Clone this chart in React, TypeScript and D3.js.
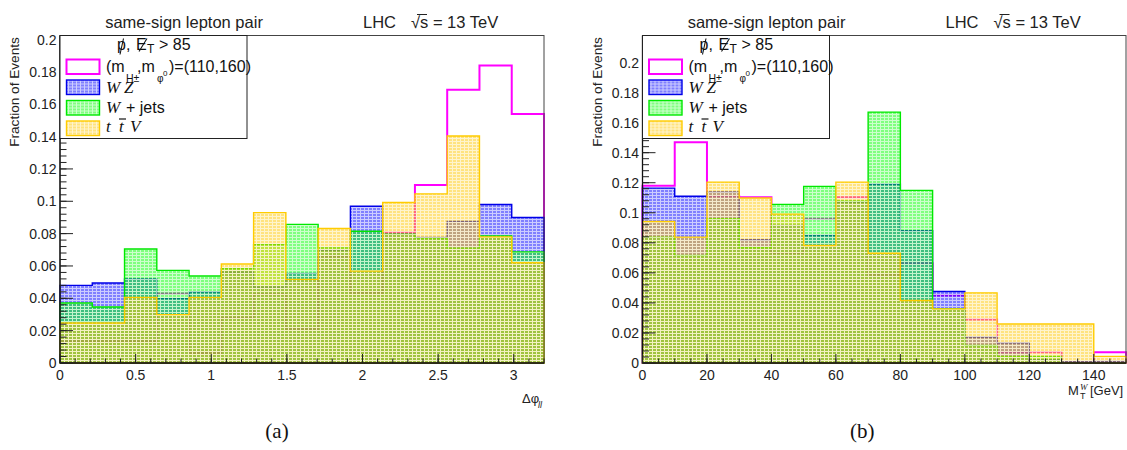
import * as d3 from 'd3';
import React from 'react';

// 15 equal bins on each distribution
const nBins = 15;
const dphiRange: [number, number] = [0, 3.2];
const mtRange: [number, number] = [0, 150];

// (a) delta phi_ll, normalised
const dphiSignal = [0.0134, 0.0134, 0.0134, 0.0429, 0.0062, 0.028, 0.0425, 0.021, 0.0658, 0.0434, 0.0807, 0.110, 0.169, 0.184, 0.154];
const dphiWZ = [0.048, 0.0495, 0.052, 0.0398, 0.0439, 0.0563, 0.047, 0.0554, 0.0697, 0.0969, 0.080, 0.0776, 0.0876, 0.098, 0.090];
const dphiWjets = [0.0371, 0.0346, 0.0705, 0.0573, 0.0538, 0.0583, 0.0732, 0.0857, 0.0712, 0.0815, 0.0797, 0.077, 0.071, 0.0786, 0.0687];
const dphiTTV = [0.0247, 0.0247, 0.0406, 0.0299, 0.0406, 0.0612, 0.093, 0.0517, 0.0832, 0.0568, 0.0992, 0.1046, 0.1404, 0.078, 0.062];

// (b) M_T^W, normalised
const mtSignal = [0.118, 0.147, 0.111, 0.1104, 0.0733, 0.096, 0.1104, 0.0587, 0.0664, 0.0449, 0.0289, 0.0071, 0.0071, 0, 0.0071];
const mtWZ = [0.1164, 0.111, 0.1138, 0.082, 0.0916, 0.0849, 0.107, 0.119, 0.088, 0.0476, 0.0171, 0.0133, 0.0022, 0.0009, 0.001];
const mtWjets = [0.0838, 0.0716, 0.096, 0.0767, 0.1056, 0.1176, 0.1078, 0.167, 0.1149, 0.036, 0.0116, 0.0044, 0.0044, 0, 0];
const mtTTV = [0.0942, 0.0838, 0.1204, 0.1098, 0.0991, 0.0782, 0.1204, 0.0731, 0.0416, 0.036, 0.0467, 0.026, 0.026, 0.026, 0.0044];

const dphiTicks = [0, 0.5, 1, 1.5, 2, 2.5, 3];
const dphiTickLabels = ['0', '0.5', '1', '1.5', '2', '2.5', '3'];
const mtTicks = [0, 20, 40, 60, 80, 100, 120, 140];
const mtTickLabels = ['0', '20', '40', '60', '80', '100', '120', '140'];
const yTicks = [0, 0.02, 0.04, 0.06, 0.08, 0.1, 0.12, 0.14, 0.16, 0.18, 0.2];
const yTickLabels = ['0', '0.02', '0.04', '0.06', '0.08', '0.1', '0.12', '0.14', '0.16', '0.18', '0.2'];

const SANS = 'Liberation Sans, Arial, sans-serif';
const SERIF = 'Liberation Serif, Times New Roman, serif';
const FILL_OP = 0.5;

// drawing order: signal, WZ, W+jets, ttV
const styles = [
  { stroke: '#ff00ff', fill: null, width: 2 },
  { stroke: '#0000e8', fill: '#0000ff', width: 1.4 },
  { stroke: '#00e800', fill: '#00ff00', width: 1.4 },
  { stroke: '#ffcc00', fill: '#ffc800', width: 1.4 },
];

function Legend({ left }: { left: number }) {
  const boxY = [24, 44.5, 65, 85.5];
  return (
    <g transform={`translate(${left},35.5)`} fontFamily={SANS} fill="#111">
      <rect x={0} y={0} width={187} height={103} fill="white" stroke="#222" strokeWidth={1} />
      {/* header: slashed p, slashed E_T > 85 */}
      <text x={57} y={14.5} fontSize={16}>p,</text>
      <line x1={63.5} x2={60} y1={3} y2={19} stroke="#111" strokeWidth={1.1} />
      <text x={76} y={14.5} fontSize={16}>E</text>
      <line x1={87} x2={79} y1={3} y2={16} stroke="#111" strokeWidth={1.1} />
      <text x={87} y={17.5} fontSize={12}>T</text>
      <text x={99} y={14.5} fontSize={16}>{'> 85'}</text>
      {styles.map((s, i) => (
        <g key={i}>
          {s.fill && <rect x={6.5} y={boxY[i]} width={33} height={14.5} fill={s.fill} fillOpacity={FILL_OP} />}
          {s.fill && <rect x={6.5} y={boxY[i]} width={33} height={14.5} fill="url(#rootgrid)" />}
          <rect x={6.5} y={boxY[i]} width={33} height={14.5} fill="none" stroke={s.stroke} strokeWidth={s.width} />
        </g>
      ))}
      <text x={46} y={36.5} fontSize={16}>(m</text>
      <text x={66} y={46} fontSize={10.5}>H±</text>
      <text x={77} y={36.5} fontSize={16}>,m</text>
      <text x={97} y={46} fontSize={10}>φ</text>
      <text x={103} y={40} fontSize={8}>0</text>
      <text x={109} y={36.5} fontSize={16}>)=(110,160)</text>
      <text x={46} y={57.5} fontSize={17} fontFamily={SERIF} fontStyle="italic">W</text>
      <text x={64} y={57.5} fontSize={17} fontFamily={SERIF} fontStyle="italic">Z</text>
      <text x={46} y={77} fontSize={17} fontFamily={SERIF} fontStyle="italic">W</text>
      <text x={66} y={77} fontSize={16}>+ jets</text>
      <text x={46} y={96.5} fontSize={17} fontFamily={SERIF} fontStyle="italic">t</text>
      <text x={59} y={96.5} fontSize={17} fontFamily={SERIF} fontStyle="italic">t</text>
      <line x1={59} x2={66} y1={83.5} y2={83.5} stroke="#111" strokeWidth={1.2} />
      <text x={70} y={96.5} fontSize={17} fontFamily={SERIF} fontStyle="italic">V</text>
    </g>
  );
}

type PanelProps = {
  left: number;
  right: number;
  xDomain: [number, number];
  yMax: number;
  hists: number[][];
  xTicks: number[];
  xLabels: string[];
  xMinor: number;
  xTitle: React.ReactNode;
  caption: string;
};

function Panel({ left, right, xDomain, yMax, hists, xTicks, xLabels, xMinor, xTitle, caption }: PanelProps) {
  const top = 35.5;
  const bottom = 363;
  const x = d3.scaleLinear().domain(xDomain).range([left, right]);
  const y = d3.scaleLinear().domain([0, yMax]).range([bottom, top]);
  const dx = (xDomain[1] - xDomain[0]) / nBins;
  const line = d3
    .line<[number, number]>()
    .x((d) => x(d[0]))
    .y((d) => y(d[1]))
    .curve(d3.curveStepAfter);
  const pathFor = (vals: number[]) => {
    const pts: [number, number][] = [
      [xDomain[0], 0],
      ...vals.map((v, i) => [xDomain[0] + i * dx, v] as [number, number]),
      [xDomain[1], vals[vals.length - 1]],
      [xDomain[1], 0],
    ];
    return (line(pts) || '') + 'Z';
  };
  const yMinor = d3.range(0, yMax, 0.004);
  const xMinorTicks = d3.range(xDomain[0], xDomain[1] + 1e-9, xMinor);
  const yLabelX = left < 300 ? 18.5 : 602;
  const cx = (left + right) / 2;

  return (
    <g>
      {hists.map((vals, i) => {
        const s = styles[i];
        const d = pathFor(vals);
        return (
          <g key={i}>
            {s.fill && <path d={d} fill={s.fill} fillOpacity={FILL_OP} />}
            {s.fill && <path d={d} fill="url(#rootgrid)" />}
            <path d={d} fill="none" stroke={s.stroke} strokeWidth={s.width} />
          </g>
        );
      })}

      {/* frame */}
      <rect x={left} y={top} width={right - left} height={bottom - top} fill="none" stroke="#444" strokeWidth={1} />
      <line x1={left} x2={left} y1={top} y2={bottom} stroke="#111" strokeWidth={1.3} />
      <line x1={left} x2={right} y1={bottom} y2={bottom} stroke="#111" strokeWidth={1.3} />

      {/* y ticks */}
      {yMinor.map((t, i) => (
        <line key={'ym' + i} x1={left} x2={left + 6.5} y1={y(t)} y2={y(t)} stroke="#222" strokeWidth={1} />
      ))}
      {yTicks.map((t, i) => (
        <g key={'y' + i}>
          <line x1={left} x2={left + 13} y1={y(t)} y2={y(t)} stroke="#222" strokeWidth={1} />
          <text x={left - 3.5} y={y(t)} dy="0.36em" textAnchor="end" fontFamily={SANS} fontSize={14} fill="#222">
            {yTickLabels[i]}
          </text>
        </g>
      ))}

      {/* x ticks */}
      {xMinorTicks.map((t, i) => (
        <line key={'xm' + i} x1={x(t)} x2={x(t)} y1={bottom} y2={bottom - 4.5} stroke="#222" strokeWidth={1} />
      ))}
      {xTicks.map((t, i) => (
        <g key={'x' + i}>
          <line x1={x(t)} x2={x(t)} y1={bottom} y2={bottom - 9} stroke="#222" strokeWidth={1} />
          <text x={x(t)} y={380} textAnchor="middle" fontFamily={SANS} fontSize={14} fill="#222">
            {xLabels[i]}
          </text>
        </g>
      ))}

      <text
        transform={`translate(${yLabelX},92) rotate(-90)`}
        textAnchor="middle"
        fontFamily={SANS}
        fontSize={13.6}
        fill="#222"
      >
        Fraction of Events
      </text>
      {xTitle}

      <Legend left={left} />

      <text x={left + 124} y={28} textAnchor="middle" fontFamily={SANS} fontSize={16.5} fill="#222">
        same-sign lepton pair
      </text>
      <text x={left + 303} y={28} fontFamily={SANS} fontSize={16.5} fill="#222">LHC</text>
      <text x={left + 351} y={28} fontFamily={SANS} fontSize={16.5} fill="#222">{'√s = 13 TeV'}</text>
      <line x1={left + 357} x2={left + 367} y1={14.5} y2={14.5} stroke="#222" strokeWidth={1} />

      <text x={cx + (left < 300 ? -25 : -22)} y={438} textAnchor="middle" fontFamily={SERIF} fontSize={21} fill="#111">
        {caption}
      </text>
    </g>
  );
}

export default function App() {
  return (
    <svg width={1127} height={450} style={{ display: 'block', position: 'absolute', left: 0, top: 0, background: 'white' }}>
      <defs>
        <pattern id="rootgrid" width={4} height={3} patternUnits="userSpaceOnUse">
          <rect x={0} y={0} width={4} height={1} fill="white" fillOpacity={0.6} />
          <rect x={0} y={1} width={1} height={2} fill="white" fillOpacity={0.6} />
        </pattern>
      </defs>
      <rect x={0} y={0} width={1127} height={450} fill="white" />
      <Panel
        left={60}
        right={544}
        xDomain={dphiRange}
        yMax={0.2025}
        hists={[dphiSignal, dphiWZ, dphiWjets, dphiTTV]}
        xTicks={dphiTicks}
        xLabels={dphiTickLabels}
        xMinor={0.1}
        caption="(a)"
        xTitle={
          <g fontFamily={SANS} fill="#222">
            <text x={522} y={403} fontSize={13}>Δφ</text>
            <text x={538} y={408} fontSize={9} fontStyle="italic">ll</text>
          </g>
        }
      />
      <Panel
        left={642.5}
        right={1126}
        xDomain={mtRange}
        yMax={0.218}
        hists={[mtSignal, mtWZ, mtWjets, mtTTV]}
        xTicks={mtTicks}
        xLabels={mtTickLabels}
        xMinor={5}
        caption="(b)"
        xTitle={
          <g fontFamily={SANS} fill="#222">
            <text x={1068} y={395} fontSize={13}>M</text>
            <text x={1080} y={390} fontSize={9} fontStyle="italic" fontFamily={SERIF}>W</text>
            <text x={1080} y={399} fontSize={9}>T</text>
            <text x={1090} y={395} fontSize={13}>[GeV]</text>
          </g>
        }
      />
    </svg>
  );
}
